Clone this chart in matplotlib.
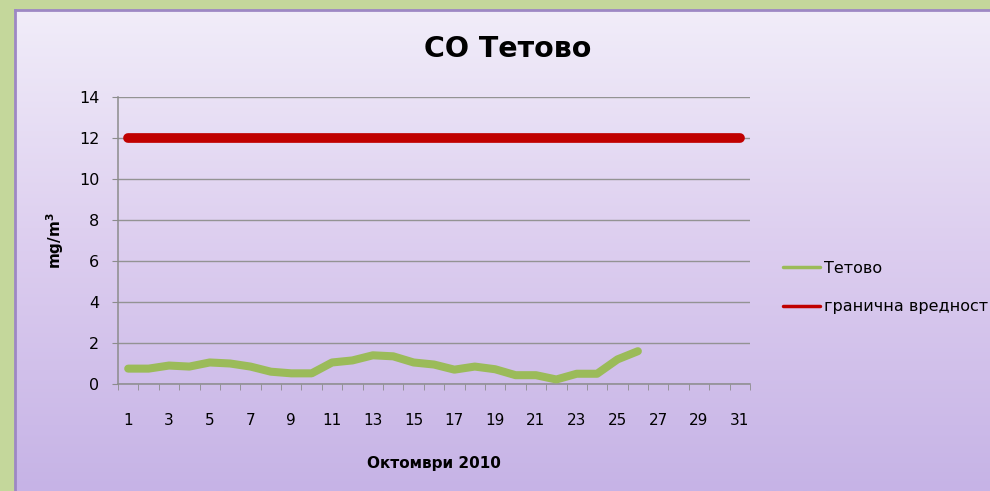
import numpy as np
import matplotlib
matplotlib.use("Agg")
import matplotlib.pyplot as plt
from matplotlib.colors import LinearSegmentedColormap

days = list(range(1, 32))
tetovo_days = list(range(1, 27))
tetovo = [0.75, 0.75, 0.9, 0.85, 1.05, 1.0, 0.85, 0.6, 0.52, 0.52,
          1.05, 1.15, 1.4, 1.35, 1.05, 0.95, 0.7, 0.85, 0.72, 0.43,
          0.43, 0.22, 0.5, 0.5, 1.2, 1.6]
limit = [12] * 31
xtick_labels = [str(d) for d in range(1, 32, 2)]

fig = plt.figure(figsize=(9.9, 4.91), dpi=100)
fig.patch.set_facecolor("#c4d79b")

# purple gradient panel
bg = fig.add_axes([15 / 990, 0, 1 - 15 / 990, 1 - 10 / 491])
cmap = LinearSegmentedColormap.from_list("panel", ["#f1edf9", "#dccdef", "#c6b3e6"])
bg.imshow(np.linspace(0, 1, 256).reshape(-1, 1), aspect="auto", cmap=cmap,
          extent=[0, 1, 0, 1])
bg.set_xticks([])
bg.set_yticks([])
for side in ["right", "bottom"]:
    bg.spines[side].set_visible(False)
for side in ["left", "top"]:
    bg.spines[side].set_color("#9d88c4")
    bg.spines[side].set_linewidth(2)

ax = fig.add_axes([118 / 990, 1 - 384 / 491, 632 / 990, 287 / 491])
ax.patch.set_alpha(0)

ax.plot(tetovo_days, tetovo, color="#9bbb59", lw=5.8, solid_capstyle="round",
        solid_joinstyle="round", label="Тетово", zorder=3)
ax.plot(days, limit, color="#c00000", lw=7, solid_capstyle="round",
        label="гранична вредност", zorder=3)

ax.set_xlim(0.5, 31.5)
ax.set_ylim(0, 14)
ax.set_yticks(range(0, 15, 2))
ax.set_xticks(range(1, 32, 2))
ax.set_xticklabels(xtick_labels)
ax.set_xticks(np.arange(0.5, 32, 1), minor=True)
ax.tick_params(axis="x", which="major", length=0, pad=21, labelsize=11)
ax.tick_params(axis="x", which="minor", length=4.5, color="#8c8c8c", direction="out")
ax.tick_params(axis="y", length=4.5, color="#8c8c8c", pad=9, labelsize=11.5)
ax.grid(axis="y", color="#939393", lw=1.0)
ax.set_axisbelow(True)
for side in ["top", "right"]:
    ax.spines[side].set_visible(False)
for side in ["left", "bottom"]:
    ax.spines[side].set_color("#8c8c8c")
    ax.spines[side].set_linewidth(1.1)

fig.text(508 / 990, 1 - 49 / 491, "CO Тетово", fontsize=20.5, fontweight="bold",
         ha="center", va="center")
ax.set_xlabel("Октомври 2010", fontsize=11, fontweight="bold", labelpad=20)
ax.set_ylabel("mg/m$^\\mathbf{3}$", fontsize=11, fontweight="bold", labelpad=9)

leg = ax.legend(loc="center left", bbox_to_anchor=(1.052, 0.336), frameon=False,
                fontsize=11.5, handlelength=2.3, handletextpad=0.3,
                labelspacing=1.45, borderpad=0, borderaxespad=0)
for h in leg.get_lines():
    h.set_linewidth(2.5)

fig.savefig("out.png", dpi=100, facecolor=fig.get_facecolor())
